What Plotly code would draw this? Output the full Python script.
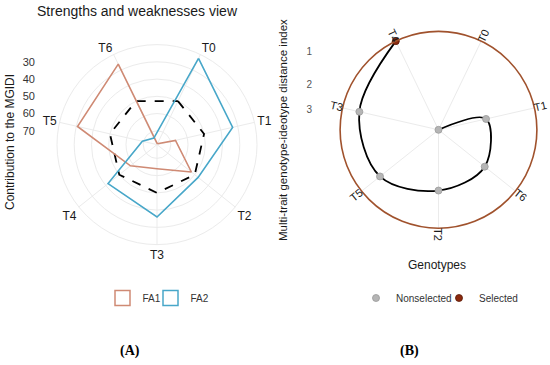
import numpy as np
import plotly.graph_objects as go

W, H = 550, 365

# ---------------- Panel A data (contribution of factors to MGIDI) ----------------
traits = ["T0", "T1", "T2", "T3", "T4", "T5", "T6"]
fa1 = [77.5, 67.0, 52.5, 64.0, 58.3, 30.7, 26.2]
fa2 = [22.5, 33.0, 47.5, 36.0, 41.7, 69.3, 73.8]
theoretical = [50, 50, 50, 50, 50, 50, 50]
radial_ticks_a = [30, 40, 50, 60, 70]
radial_range_a = [78, 20]

# ---------------- Panel B data (MGIDI index) ----------------
genotypes = ["T0", "T1", "T6", "T2", "T5", "T3", "T4"]   # ordered by decreasing MGIDI
mgidi = [3.93, 1.88, 1.54, 1.49, 1.09, 0.93, 0.56]
selected = ["T4"]
radial_ticks_b = [1, 2, 3]

FONT = "Liberation Sans"
C_FA1 = "#CF8A74"
C_FA2 = "#48A7C9"
C_SEL = "#8B2A0E"
C_CIRC = "#A0522D"
C_NON = "#B5B5B5"
GRID = "#EBEBEB"


def px_dom(cx, cy, r):
    return dict(x=[(cx - r) / W, (cx + r) / W], y=[1 - (cy + r) / H, 1 - (cy - r) / H])


A_CX, A_CY, A_R = 157.0, 144.6, 100.0
B_CX, B_CY, B_R = 438.5, 129.8, 98.4

fig = go.Figure()


def closed(v):
    return list(v) + [v[0]]


# ---- Panel A traces
fig.add_trace(go.Scatterpolar(r=closed(theoretical), theta=closed(traits), mode="lines",
                              line=dict(color="black", width=1.8, dash="dash"),
                              showlegend=False, subplot="polar", hoverinfo="skip"))
fig.add_trace(go.Scatterpolar(r=closed(fa1), theta=closed(traits), mode="lines",
                              line=dict(color=C_FA1, width=1.6), name="FA1",
                              showlegend=False, subplot="polar"))
fig.add_trace(go.Scatterpolar(r=closed(fa2), theta=closed(traits), mode="lines",
                              line=dict(color=C_FA2, width=1.6), name="FA2",
                              showlegend=False, subplot="polar"))
# legend entries (box icons), one legend box each
for nm, col, lg in [("FA1", C_FA1, "legend"), ("FA2", C_FA2, "legend3")]:
    fig.add_trace(go.Scatterpolar(r=[None], theta=[traits[0]], mode="markers",
                                  marker=dict(symbol="square-open", size=15,
                                              color=col, line=dict(width=1.5, color=col)),
                                  name=nm, legend=lg, subplot="polar"))

# ---- Panel B traces
r_b = np.sqrt(np.array(mgidi))
fig.add_trace(go.Scatterpolar(r=r_b, theta=genotypes, mode="lines",
                              line=dict(color="black", width=1.8, shape="spline", smoothing=1.0),
                              showlegend=False, subplot="polar2", hoverinfo="skip"))
is_sel = [g in selected for g in genotypes]
fig.add_trace(go.Scatterpolar(r=[r for r, s in zip(r_b, is_sel) if not s],
                              theta=[g for g, s in zip(genotypes, is_sel) if not s],
                              mode="markers", name="Nonselected",
                              marker=dict(size=7, color=C_NON, line=dict(color="#999999", width=0.8)),
                              legend="legend2", subplot="polar2", cliponaxis=False))
fig.add_trace(go.Scatterpolar(r=[r for r, s in zip(r_b, is_sel) if s],
                              theta=[g for g, s in zip(genotypes, is_sel) if s],
                              mode="markers", name="Selected",
                              marker=dict(size=7, color=C_SEL, line=dict(color="#5a1a08", width=0.8)),
                              legend="legend4", subplot="polar2", cliponaxis=False))

# dummy traces for the cartesian radial-scale axes
fig.add_trace(go.Scatter(x=[None], y=[None], xaxis="x", yaxis="y", showlegend=False))
fig.add_trace(go.Scatter(x=[None], y=[None], xaxis="x2", yaxis="y2", showlegend=False))

rot = 90 - 360 / 14


def leg(sym_x):
    return dict(orientation="h", x=(sym_x - 19) / W, xanchor="left", y=1 - 298 / H,
                yanchor="middle", font=dict(size=10, color="#333333"), itemwidth=30,
                bgcolor="rgba(0,0,0,0)")


fig.update_layout(
    width=W, height=H, margin=dict(l=0, r=0, t=0, b=0),
    paper_bgcolor="white", plot_bgcolor="rgba(0,0,0,0)",
    font=dict(family=FONT, color="#1a1a1a"),
    polar=dict(
        domain=px_dom(A_CX, A_CY, A_R), bgcolor="rgba(0,0,0,0)",
        angularaxis=dict(type="category", categoryarray=traits, direction="clockwise",
                         rotation=rot, showline=True, linecolor=GRID, linewidth=1,
                         gridcolor=GRID, ticks="", tickfont=dict(size=12, color="#1a1a1a")),
        radialaxis=dict(range=radial_range_a, tickvals=[20] + radial_ticks_a,
                        showticklabels=False, ticks="", showline=False, gridcolor=GRID),
    ),
    polar2=dict(
        domain=px_dom(B_CX, B_CY, B_R), bgcolor="rgba(0,0,0,0)",
        angularaxis=dict(type="category", categoryarray=genotypes, direction="clockwise",
                         rotation=rot, showline=True, linecolor=C_CIRC, linewidth=1.6,
                         gridcolor=GRID, ticks="", showticklabels=False),
        radialaxis=dict(range=[float(r_b.max()), float(r_b.min())], showgrid=False,
                        showticklabels=False, ticks="", showline=False),
    ),
    xaxis=dict(domain=[0, 0.01], visible=False, anchor="y"),
    yaxis=dict(domain=[1 - A_CY / H, 1 - (A_CY - A_R) / H], range=radial_range_a,
               tickvals=radial_ticks_a, anchor="free", position=35 / W, side="left",
               showgrid=False, zeroline=False, showline=False, ticks="",
               tickfont=dict(size=11, color="#333333")),
    xaxis2=dict(domain=[0.99, 1], visible=False, anchor="y2"),
    yaxis2=dict(domain=[1 - B_CY / H, 1 - (B_CY - B_R) / H],
                range=[float(r_b.max()), float(r_b.min())],
                tickvals=list(np.sqrt(radial_ticks_b)), ticktext=[str(t) for t in radial_ticks_b],
                anchor="free", position=312 / W, side="left",
                showgrid=False, zeroline=False, showline=False, ticks="",
                tickfont=dict(size=10, color="#555555")),
    legend=leg(121.5),
    legend3=leg(169.5),
    legend2=leg(375),
    legend4=leg(458),
)

ann = [
    dict(text="Strengths and weaknesses view", x=137.5 / W, y=1 - 11 / H, font=dict(size=14)),
    dict(text="Contribution to the MGIDI", x=10 / W, y=1 - 142 / H, textangle=-90, font=dict(size=12)),
    dict(text="Multi-trait genotype-ideotype distance index", x=283 / W, y=1 - 130 / H,
         textangle=-90, font=dict(size=11.5)),
    dict(text="Genotypes", x=437 / W, y=1 - 265 / H, font=dict(size=12)),
    dict(text="<b>(A)</b>", x=130 / W, y=1 - 351 / H, font=dict(size=14, family="Liberation Serif", color="black")),
    dict(text="<b>(B)</b>", x=409 / W, y=1 - 351 / H, font=dict(size=14, family="Liberation Serif", color="black")),
]
# rotated genotype labels around panel B
n = len(genotypes)
R_LAB = B_R * 1.065
for i, g in enumerate(genotypes):
    th = (i + 0.5) * 360 / n
    a = 90 - th
    if a < -90:
        a += 180
    xx = B_CX + R_LAB * np.sin(np.radians(th))
    yy = B_CY - R_LAB * np.cos(np.radians(th))
    ann.append(dict(text=g, x=xx / W, y=1 - yy / H, textangle=-a, font=dict(size=11, color="#1a1a1a")))

for a in ann:
    a.update(xref="paper", yref="paper", showarrow=False, xanchor="center", yanchor="middle")
fig.update_layout(annotations=ann)

fig.write_html("out.html", config={"displayModeBar": False},
               post_script="document.body.style.margin='0';document.body.style.overflow='hidden';")
